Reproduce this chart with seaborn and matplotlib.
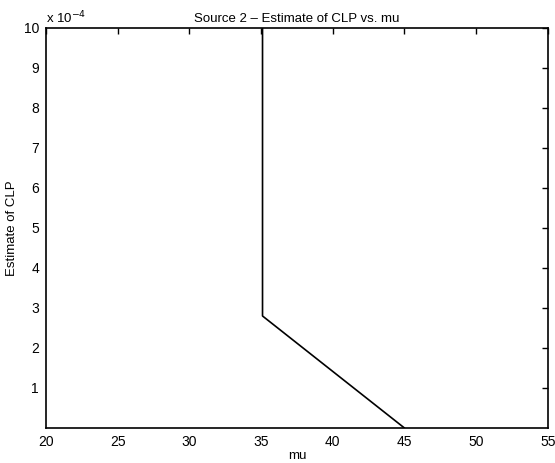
import numpy as np
import pandas as pd
import matplotlib
matplotlib.use('Agg')
import matplotlib.pyplot as plt
import seaborn as sns

# data
mu = [35.1, 35.1, 45.0]
clp = [10e-4, 2.8e-4, 0.0]
x_ticks = [20, 25, 30, 35, 40, 45, 50, 55]
y_ticks = [1, 2, 3, 4, 5, 6, 7, 8, 9, 10]

df = pd.DataFrame({'mu': mu, 'clp': clp})

sns.set_style('white')
plt.rcParams['font.family'] = ['Liberation Sans', 'DejaVu Sans']
plt.rcParams['font.size'] = 9.5
plt.rcParams['text.color'] = 'black'
plt.rcParams['axes.labelcolor'] = 'black'

fig = plt.figure(figsize=(5.55, 4.63), dpi=100)
ax = fig.add_axes([0.083, 0.0756, 0.904, 0.864])

# no aggregation: the two points at the same mu are a vertical segment
sns.lineplot(data=df, x='mu', y='clp', sort=False, estimator=None, errorbar=None,
             color='black', linewidth=1.2, ax=ax)

ax.set_xlim(20, 55)
ax.set_ylim(0, 10e-4)
ax.set_xticks(x_ticks)
ax.set_xticklabels([str(t) for t in x_ticks])
ax.set_yticks([t * 1e-4 for t in y_ticks])
ax.set_yticklabels([str(t) for t in y_ticks])
ax.tick_params(direction='in', length=4, width=1, colors='black', labelsize=10,
               top=True, right=True, pad=5)
for s in ax.spines.values():
    s.set_color('black')
    s.set_linewidth(1.2)

ax.text(0.0, 1.005, 'x 10$^{-4}$', transform=ax.transAxes, fontsize=9.5,
        ha='left', va='bottom', color='black')
ax.set_title('Source 2 \u2013 Estimate of CLP vs. mu', fontsize=9.5, pad=4, color='black')
ax.set_xlabel('mu', fontsize=9.5, labelpad=1, color='black')
ax.set_ylabel('Estimate of CLP', fontsize=9.5, labelpad=4, color='black')

fig.savefig('out.png', dpi=100)
